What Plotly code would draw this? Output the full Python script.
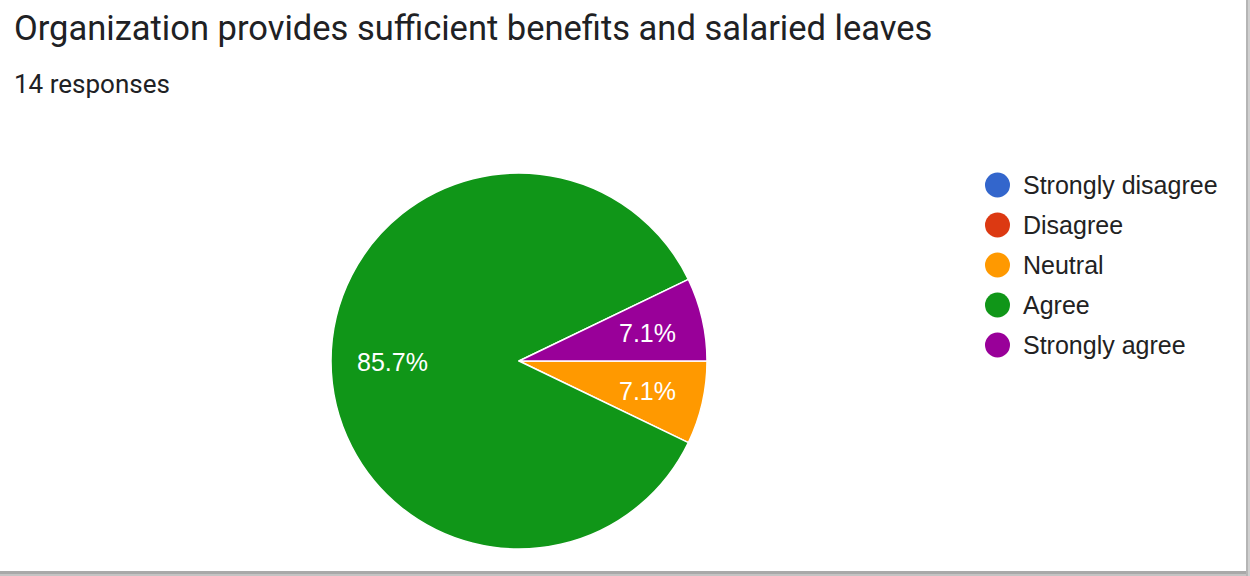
import math
import plotly.graph_objects as go

categories = ["Strongly disagree", "Disagree", "Neutral", "Agree", "Strongly agree"]
counts = [0, 0, 1, 12, 1]
colors = ["#3366cc", "#dc3912", "#ff9900", "#109618", "#990099"]
title_text = "Organization provides sufficient benefits and salaried leaves"
subtitle_text = "14 responses"

W, H = 1250, 576
FONT = "Arial, 'Liberation Sans', sans-serif"
CX, CY, R = 519, 361, 188  # pie centre and radius in pixels

fig = go.Figure()
fig.add_trace(go.Pie(
    labels=categories,
    values=counts,
    sort=False,
    direction="clockwise",
    rotation=90,
    marker=dict(colors=colors, line=dict(color="white", width=1.5)),
    textinfo="none",
    domain=dict(x=[(CX - R) / W, (CX + R) / W], y=[1 - (CY + R) / H, 1 - (CY - R) / H]),
    showlegend=False,
    hoverinfo="label+percent",
))

shapes = []
annotations = []

# slice percentage labels, positioned from the data (clockwise from 3 o'clock)
total = sum(counts)
start = 0.0
for v in counts:
    if v > 0:
        frac = v / total
        mid = start + frac / 2
        ang = -2 * math.pi * mid  # clockwise in screen
        rf = 0.675 if frac > 0.5 else 0.70
        px = CX + rf * R * math.cos(ang)
        py = CY - rf * R * math.sin(ang) + 1
        annotations.append(dict(text=f"{frac * 100:.1f}%", xref="paper", yref="paper",
                                x=px / W, y=1 - py / H, xanchor="center", yanchor="middle",
                                showarrow=False,
                                font=dict(family=FONT, size=25, color="white")))
        start += frac

# custom legend with circle markers
leg_x0 = 985
leg_y0 = 185
step = 40
r = 12.5
for i, (cat, col) in enumerate(zip(categories, colors)):
    cy = leg_y0 + i * step
    shapes.append(dict(type="circle", xref="paper", yref="paper",
                       x0=(leg_x0) / W, x1=(leg_x0 + 2 * r) / W,
                       y0=1 - (cy + r) / H, y1=1 - (cy - r) / H,
                       fillcolor=col, line=dict(width=0)))
    annotations.append(dict(text=cat, xref="paper", yref="paper",
                            x=1021 / W, y=1 - cy / H, xanchor="left", yanchor="middle",
                            showarrow=False,
                            font=dict(family=FONT, size=25, color="#222222")))

annotations.append(dict(text=title_text, xref="paper", yref="paper",
                        x=12 / W, y=1 - 28 / H, xanchor="left", yanchor="middle",
                        showarrow=False,
                        font=dict(family="Roboto, 'Open Sans', sans-serif", size=34.5, color="#202124")))
annotations.append(dict(text=subtitle_text, xref="paper", yref="paper",
                        x=12 / W, y=1 - 84 / H, xanchor="left", yanchor="middle",
                        showarrow=False,
                        font=dict(family="Roboto, sans-serif", size=26, color="#202124")))

# card shadow on right and bottom edges
shapes.append(dict(type="rect", xref="paper", yref="paper", x0=0, x1=1, y0=0, y1=5 / H,
                   fillcolor="#a9a9a9", line=dict(width=0), layer="above"))
shapes.append(dict(type="rect", xref="paper", yref="paper", x0=0, x1=1, y0=0, y1=2 / H,
                   fillcolor="#c4c4c4", line=dict(width=0), layer="above"))
shapes.append(dict(type="rect", xref="paper", yref="paper", x0=1 - 4 / W, x1=1, y0=0, y1=1,
                   fillcolor="#b5b5b5", line=dict(width=0), layer="above"))
shapes.append(dict(type="rect", xref="paper", yref="paper", x0=1 - 2 / W, x1=1, y0=0, y1=1,
                   fillcolor="#d0d0d0", line=dict(width=0), layer="above"))

fig.update_layout(
    width=W, height=H,
    margin=dict(l=0, r=0, t=0, b=0),
    paper_bgcolor="white",
    plot_bgcolor="white",
    shapes=shapes,
    annotations=annotations,
    showlegend=False,
)

fig.write_html("out.html")
